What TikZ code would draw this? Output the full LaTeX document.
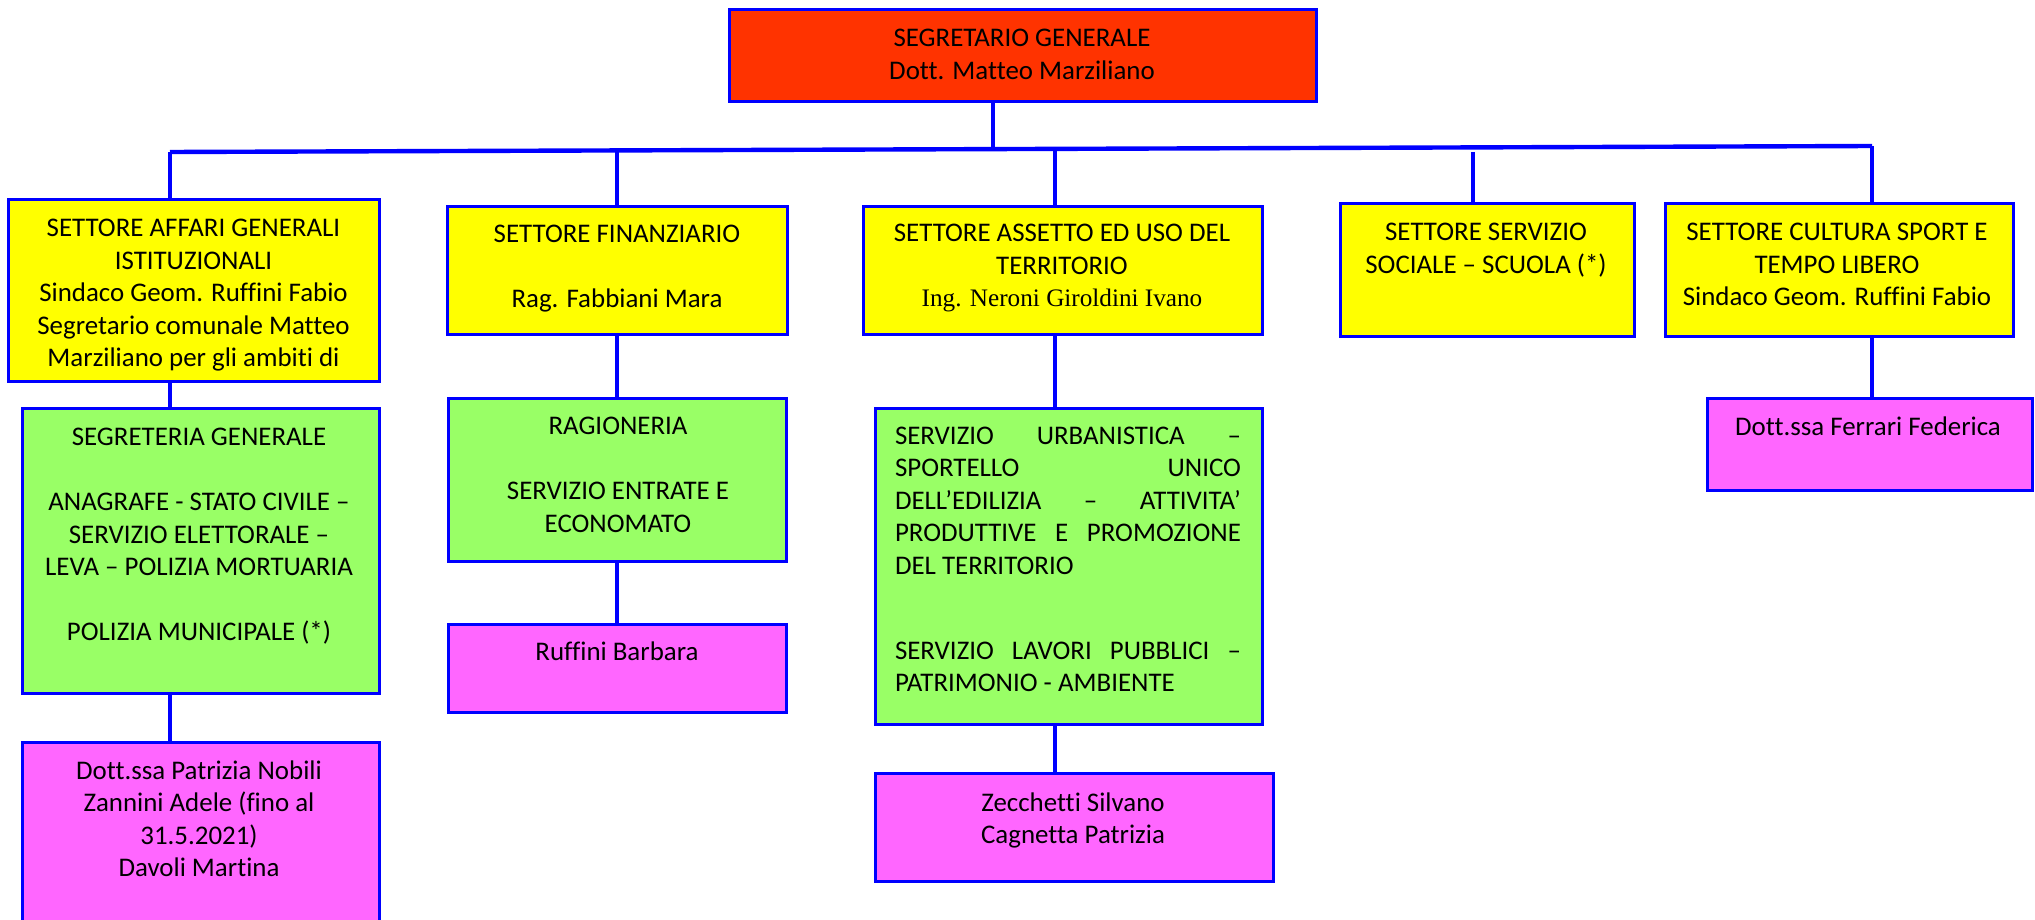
\documentclass[tikz,border=0pt]{standalone}
\usepackage{fontspec}
\setmainfont{Carlito}[Ligatures=NoCommon]
\newfontfamily\seriffont{Liberation Serif}
\usetikzlibrary{fit}
\definecolor{bordo}{HTML}{0000FF}
\definecolor{rosso}{HTML}{FF3300}
\definecolor{giallo}{HTML}{FFFF00}
\definecolor{verde}{HTML}{99FF66}
\definecolor{rosa}{HTML}{FF66FF}
\newcommand\tstr{\rule{0pt}{12.33pt}}
\newcommand\bstr{\rule[-3.67pt]{0pt}{3.67pt}}
\newcommand\jstline[1]{\makebox[173pt][s]{#1}}
\newcommand\lftline[1]{\makebox[173pt][l]{#1}}
\begin{document}
\begin{tikzpicture}[x=0.5pt,y=-0.5pt,
  box/.style={draw=bordo, line width=1.5pt, inner sep=0pt},
  txt/.style={inner sep=0pt, align=center, font=\fontsize{13.45pt}{16.25pt}\selectfont},
  conn/.style={draw=bordo, line width=1.6pt},
  bus/.style={draw=bordo, line width=2.2pt}]
\useasboundingbox (0,0) rectangle (2035,920);
\begin{scope}
\clip (0,0) rectangle (2035,920);
% boxes
\node[box, fill=rosso,  fit={(729,10) (1316,102)}] (r) {};
\node[box, fill=giallo, fit={(8,199) (379,381)}] (s1) {};
\node[box, fill=giallo, fit={(447,206) (787,334)}] (s2) {};
\node[box, fill=giallo, fit={(863,206) (1262,334)}] (s3) {};
\node[box, fill=giallo, fit={(1340,203) (1634,336)}] (s4) {};
\node[box, fill=giallo, fit={(1665,203) (2013,336)}] (s5) {};
\node[box, fill=verde,  fit={(22,408) (379,693)}] (g1) {};
\node[box, fill=verde,  fit={(448,398) (786,561)}] (g2) {};
\node[box, fill=verde,  fit={(875,408) (1262,724)}] (g3) {};
\node[box, fill=rosa,   fit={(22,742) (379,980)}] (p1) {};
\node[box, fill=rosa,   fit={(448,624) (786,712)}] (p2) {};
\node[box, fill=rosa,   fit={(875,773) (1273,881)}] (p3) {};
\node[box, fill=rosa,   fit={(1707,398) (2032,490)}] (p5) {};
% texts
\node[txt] (tr) at (1022,54.5) {\tstr SEGRETARIO GENERALE\\Dott. Matteo Marziliano\bstr};
\node[txt] (ts1) at (193.5,293) {\tstr SETTORE AFFARI GENERALI\\ISTITUZIONALI\\Sindaco Geom. Ruffini Fabio\\Segretario comunale Matteo\\Marziliano per gli ambiti di\bstr};
\node[txt] (ts2) at (617,266) {\tstr SETTORE FINANZIARIO\\[16.25pt]Rag. Fabbiani Mara\bstr};
\node[txt] (ts3) at (1062,265.5) {\tstr SETTORE ASSETTO ED USO DEL\\TERRITORIO\\{\seriffont\fontsize{12.6pt}{16.25pt}\selectfont Ing. Neroni Giroldini Ivano}\bstr};
\node[txt] (ts4) at (1486,248.5) {\tstr SETTORE SERVIZIO\\SOCIALE – SCUOLA (*)\bstr};
\node[txt] (ts5) at (1837,264.5) {\tstr SETTORE CULTURA SPORT E\\TEMPO LIBERO\\Sindaco Geom. Ruffini Fabio\bstr};
\node[txt] (tg1) at (199,534.5) {\tstr SEGRETERIA GENERALE\\[16.25pt]ANAGRAFE - STATO CIVILE –\\SERVIZIO ELETTORALE –\\LEVA – POLIZIA MORTUARIA\\[16.25pt]POLIZIA MUNICIPALE (*)\bstr};
\node[txt] (tg2) at (618,475) {\tstr RAGIONERIA\\[16.25pt]SERVIZIO ENTRATE E\\ECONOMATO\bstr};
\node[txt, align=left] (tg3) at (1068,559.5) {\tstr\jstline{SERVIZIO URBANISTICA –}\\\jstline{SPORTELLO UNICO}\\\jstline{DELL’EDILIZIA – ATTIVITA’}\\\jstline{PRODUTTIVE E PROMOZIONE}\\\lftline{DEL TERRITORIO}\\[26.25pt]\jstline{SERVIZIO LAVORI PUBBLICI –}\\\lftline{PATRIMONIO - AMBIENTE}\bstr};
\node[txt] (tp1) at (199,819.5) {\tstr Dott.ssa Patrizia Nobili\\Zannini Adele (fino al\\31.5.2021)\\Davoli Martina\bstr};
\node[txt] (tp2) at (617,652) {\tstr Ruffini Barbara\bstr};
\node[txt] (tp3) at (1073,819) {\tstr Zecchetti Silvano\\Cagnetta Patrizia\bstr};
\node[txt] (tp5) at (1868,426.5) {\tstr Dott.ssa Ferrari Federica\bstr};
% bus
\coordinate (bl) at (170,152);
\coordinate (br) at (1872,146);
\coordinate (dr) at (993,149.1);
\coordinate (d2) at (617,150.4);
\coordinate (d3) at (1055,148.9);
\coordinate (d4) at (1473,152);
\draw[bus] (bl) -- (br);
\draw[conn] (dr |- r.south) -- (dr);
\draw[conn] (bl) -- (bl |- s1.north);
\draw[conn] (d2) -- (d2 |- s2.north);
\draw[conn] (d3) -- (d3 |- s3.north);
\draw[conn] (d4) -- (d4 |- s4.north);
\draw[conn] (br) -- (br |- s5.north);
% lower connectors
\coordinate (k1) at (170,0);
\coordinate (k2) at (617,0);
\coordinate (k3) at (1055,0);
\coordinate (k5) at (1872,0);
\draw[conn] (k1 |- s1.south) -- (k1 |- g1.north);
\draw[conn] (k1 |- g1.south) -- (k1 |- p1.north);
\draw[conn] (k2 |- s2.south) -- (k2 |- g2.north);
\draw[conn] (k2 |- g2.south) -- (k2 |- p2.north);
\draw[conn] (k3 |- s3.south) -- (k3 |- g3.north);
\draw[conn] (k3 |- g3.south) -- (k3 |- p3.north);
\draw[conn] (k5 |- s5.south) -- (k5 |- p5.north);
\end{scope}
\end{tikzpicture}
\end{document}
